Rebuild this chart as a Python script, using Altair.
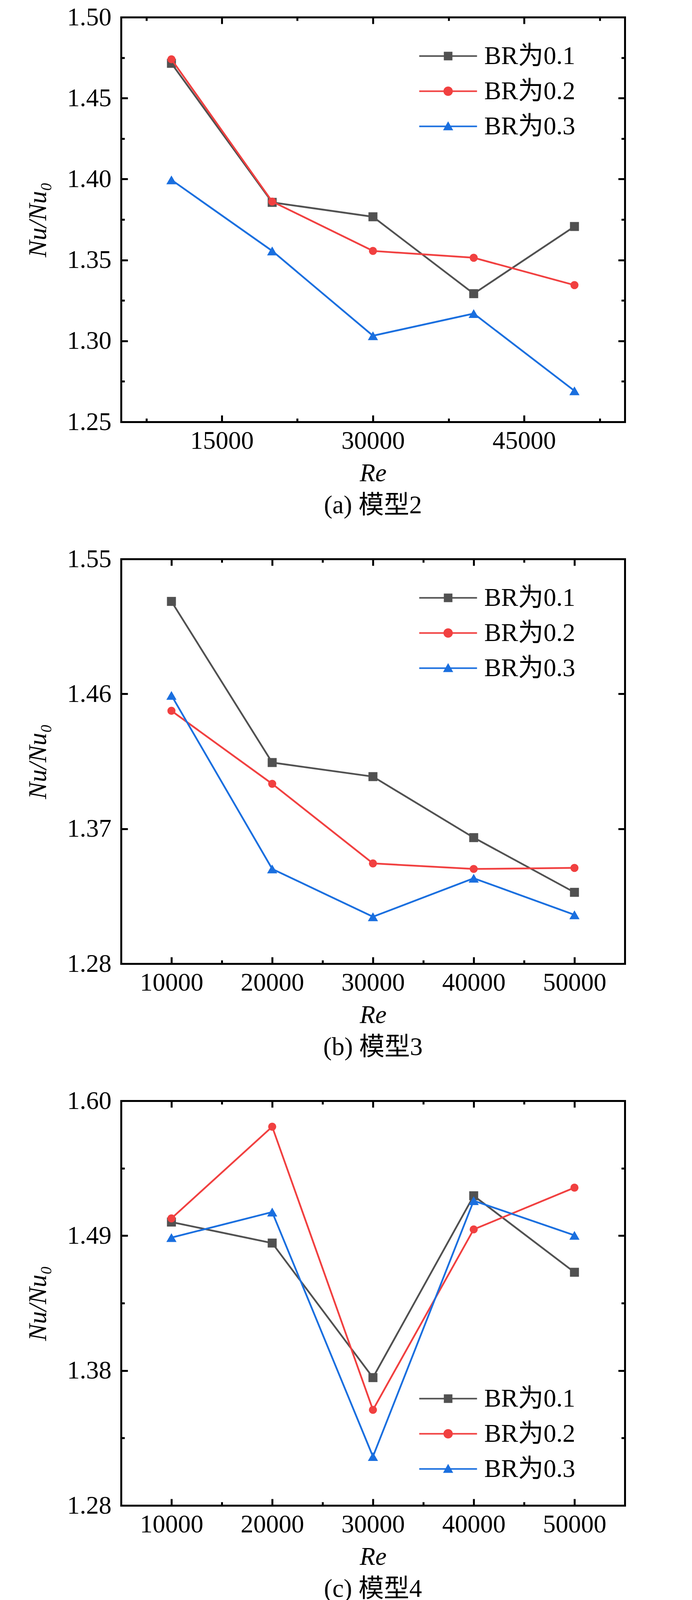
import altair as alt
import pandas as pd

# ---------------- data ----------------
series = ["BR为0.1", "BR为0.2", "BR为0.3"]
colors = ["#515151", "#F14040", "#1A6FDF"]
re_values = [10000, 20000, 30000, 40000, 50000]

a_br01 = [1.4715, 1.3856, 1.3767, 1.3292, 1.3707]
a_br02 = [1.4740, 1.3861, 1.3556, 1.3514, 1.3345]
a_br03 = [1.3995, 1.3556, 1.3032, 1.3169, 1.2692]

b_br01 = [1.5217, 1.4142, 1.4048, 1.3641, 1.3276]
b_br02 = [1.4487, 1.4000, 1.3469, 1.3432, 1.3439]
b_br03 = [1.4590, 1.3432, 1.3113, 1.3370, 1.3126]

c_br01 = [1.5041, 1.4875, 1.3811, 1.5249, 1.4644]
c_br02 = [1.5070, 1.5795, 1.3556, 1.4983, 1.5313]
c_br03 = [1.4918, 1.5120, 1.3187, 1.5210, 1.4936]

captions = ["(a) 模型2", "(b) 模型3", "(c) 模型4"]

x_ticks_a = [7500, 15000, 22500, 30000, 37500, 45000, 52500]
x_major_a = [15000, 30000, 45000]
x_ticks_bc = [10000, 15000, 20000, 25000, 30000, 35000, 40000, 45000, 50000]
x_major_bc = [10000, 20000, 30000, 40000, 50000]

y_dom_a = [1.25, 1.50]
y_ticks_a = [1.25, 1.275, 1.3, 1.325, 1.35, 1.375, 1.4, 1.425, 1.45, 1.475, 1.5]
y_major_a = [1.25, 1.3, 1.35, 1.4, 1.45, 1.5]
y_dom_b = [1.28, 1.55]
y_ticks_b = [1.28, 1.37, 1.46, 1.55]
y_major_b = [1.28, 1.37, 1.46, 1.55]
y_dom_c = [1.28, 1.60]
y_ticks_c = [1.28, 1.3333333, 1.3866667, 1.44, 1.4933333, 1.5466667, 1.6]
y_major_c = [1.28, 1.3866667, 1.4933333, 1.6]

FONT = "Liberation Serif, 'DejaVu Serif', 'Noto Sans CJK SC'"
NUM_FONT = "Liberation Serif"
TITLE_FONT = "Liberation Serif, 'DejaVu Serif'"
FS = 65

point_shapes = ["square", "circle", "triangle-up"]
point_sizes = [529, 430, 680]
legend_paths = [
    "M-74,-2H74V2H-74Z M-11,-11H11V11H-11Z",
    "M-74,-2H74V2H-74Z M-12,0A12,12 0 1,1 12,0A12,12 0 1,1 -12,0Z",
    "M-74,-2H74V2H-74Z M0,-13L13,10H-13Z",
]

PW, PH = 1290, 1036


def make_panel(vals, ydom, yticks, ymaj, xticks, xmaj, caption, legend_y):
    rows = []
    for name, ys in zip(series, vals):
        for r, v in zip(re_values, ys):
            rows.append({"Re": r, "ratio": v, "BR": name})
    df = pd.DataFrame(rows)

    xscale = alt.Scale(domain=[5000, 55000], nice=False, zero=False)
    yscale = alt.Scale(domain=ydom, nice=False, zero=False)

    x_ts = alt.ExprRef(expr=f"indexof({xmaj}, datum.value) >= 0 ? -17 : -9")
    y_ts = alt.ExprRef(expr=f"indexof({ymaj}, datum.value) >= 0 ? -17 : -9")
    x_lab = f"indexof({xmaj}, datum.value) >= 0 ? format(datum.value, 'd') : ''"
    y_lab = (f"indexof({ymaj}, datum.value) >= 0 ? "
             f"format(floor(datum.value*100+0.000001)/100, '.2f') : ''")

    ax_bottom = alt.Axis(orient="bottom", values=xticks, labelExpr=x_lab, tickSize=x_ts,
                         title="Re", titleFontStyle="italic", labelPadding=34,
                         titlePadding=11, labelFlush=False, labelOverlap=False)
    ax_left = alt.Axis(orient="left", values=yticks, labelExpr=y_lab, tickSize=y_ts,
                       title="Nu/Nu₀", titleFontStyle="italic", labelPadding=42,
                       titlePadding=40, labelFlush=False, labelOverlap=False)
    ax_top = alt.Axis(orient="top", values=xticks, labels=False, tickSize=x_ts, title=None)
    ax_right = alt.Axis(orient="right", values=yticks, labels=False, tickSize=y_ts, title=None)

    layers = []
    for i, (name, col) in enumerate(zip(series, colors)):
        base = alt.Chart(df).transform_filter(alt.datum.BR == name)
        line = base.mark_line(color=col, strokeWidth=4.5).encode(
            x=alt.X("Re:Q", scale=xscale, axis=ax_bottom if i == 0 else None),
            y=alt.Y("ratio:Q", scale=yscale, axis=ax_left if i == 0 else None),
        )
        pts = base.mark_point(shape=point_shapes[i], filled=True, size=point_sizes[i],
                              color=col, opacity=1).encode(
            x=alt.X("Re:Q", scale=xscale, axis=ax_top if i == 0 else None),
            y=alt.Y("ratio:Q", scale=yscale, axis=ax_right if i == 0 else None),
        )
        layers += [line, pts]

    leg = alt.Legend(title=None, orient="none", legendX=805, legendY=legend_y,
                     labelOffset=60, rowPadding=24, padding=0, symbolSize=4,
                     symbolStrokeWidth=0, labelLimit=1000, labelFont=FONT,
                     labelFontSize=FS, labelColor="black")
    legend_layer = alt.Chart(df).transform_filter("false").mark_point(
        filled=True, size=4, opacity=1).encode(
        color=alt.Color("BR:N", scale=alt.Scale(domain=series, range=colors), legend=leg),
        shape=alt.Shape("BR:N", scale=alt.Scale(domain=series, range=legend_paths), legend=leg),
    )
    layers.append(legend_layer)

    return alt.layer(*layers).resolve_axis(x="independent", y="independent").properties(
        width=PW, height=PH,
        title=alt.TitleParams(caption, orient="bottom", anchor="middle", frame="group",
                              offset=19, font=FONT, fontSize=FS, fontWeight="normal",
                              color="black"),
    )


pa = make_panel([a_br01, a_br02, a_br03], y_dom_a, y_ticks_a, y_major_a,
                x_ticks_a, x_major_a, captions[0], 67)
pb = make_panel([b_br01, b_br02, b_br03], y_dom_b, y_ticks_b, y_major_b,
                x_ticks_bc, x_major_bc, captions[1], 67)
pc = make_panel([c_br01, c_br02, c_br03], y_dom_c, y_ticks_c, y_major_c,
                x_ticks_bc, x_major_bc, captions[2], 730)

chart = alt.vconcat(pa, pb, pc, spacing=72).resolve_scale(
    color="independent", shape="independent"
).properties(
    padding=alt.ExprRef(expr="{top: 4, left: 57, right: 5, bottom: 0}"),
    background="white",
).configure_view(stroke=None).configure_axis(
    domainColor="black", domainWidth=5, domainCap="square",
    tickColor="black", tickWidth=5, grid=False,
    labelFont=NUM_FONT, labelFontSize=FS, labelColor="black",
    titleFont=TITLE_FONT, titleFontSize=FS, titleFontWeight="normal", titleColor="black",
)

chart.save("out.html", embed_options={"renderer": "svg", "actions": False})
